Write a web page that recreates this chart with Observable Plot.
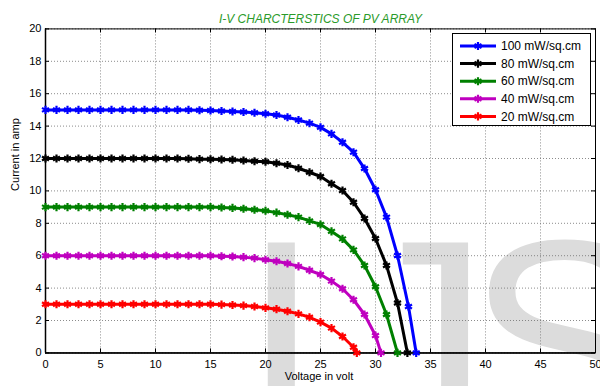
<!DOCTYPE html>
<html>
<head>
<meta charset="utf-8">
<script src="https://cdn.jsdelivr.net/npm/d3@7"></script>
<script src="https://cdn.jsdelivr.net/npm/@observablehq/plot@0.6"></script>
<style>
  html, body { margin: 0; padding: 0; background: #fff; }
  #chart { width: 600px; height: 386px; }
</style>
</head>
<body>
<div id="chart"></div>
<script>
// ---- data ----
const titleText = "I-V CHARCTERSTICS OF PV ARRAY";
const xLabel = "Voltage in volt";
const yLabel = "Current in amp";
const watermarkParts = ["I", "J", "SER"];
const seriesNames = ["100 mW/sq.cm", "80 mW/sq.cm", "60 mW/sq.cm", "40 mW/sq.cm", "20 mW/sq.cm"];
const seriesColors = ["#0000ff", "#000000", "#008000", "#bf00bf", "#ff0000"];
const xTicks = [0, 5, 10, 15, 20, 25, 30, 35, 40, 45, 50];
const yTicks = [0, 2, 4, 6, 8, 10, 12, 14, 16, 18, 20];
// voltage samples (V), one per integer volt
const voltage = [0,1,2,3,4,5,6,7,8,9,10,11,12,13,14,15,16,17,18,19,20,21,22,23,24,25,26,27,28,29,30,31,32,33];
// currents (A) at those voltages
const i100 = [15,15,15,15,15,15,15,15,15,15,15,15,15,15.0,14.98,14.96,14.93,14.9,14.87,14.82,14.76,14.68,14.55,14.38,14.18,13.92,13.52,13.0,12.39,11.38,10.07,8.38,6.01,2.86];
const i80  = [12,12,12,12,12,12,12,12,12,12,12,12,12,11.98,11.96,11.95,11.94,11.92,11.88,11.83,11.8,11.71,11.6,11.4,11.15,10.89,10.44,10.02,9.3,8.3,7.06,5.4,3.08];
const i60  = [9,9,9,9,9,9,9,9,9,9,9,9,9,9,9,9,8.97,8.95,8.9,8.84,8.77,8.66,8.53,8.38,8.15,7.93,7.5,7.04,6.36,5.4,4.08,2.37];
const i40  = [6,6,6,6,6,6,6,6,6,6,6,6,6,6,6,6,5.97,5.95,5.91,5.85,5.75,5.66,5.52,5.34,5.1,4.84,4.43,3.96,3.28,2.37,1.07];
const i20  = [3,3,3,3,3,3,3,3,3,3,3,3,3,3,3,3,2.98,2.96,2.92,2.86,2.78,2.7,2.57,2.41,2.2,1.9,1.53,1.01,0.35];
// open-circuit voltage (current = 0) of each curve
const voc = [33.7, 32.9, 32.0, 30.5, 28.3];

const currents = [i100, i80, i60, i40, i20];
const rows = seriesNames.flatMap((name, k) => {
  const pts = currents[k].map((c, j) => ({series: name, V: voltage[j], I: c}));
  pts.push({series: name, V: voc[k], I: 0});
  return pts;
});

// ---- layout ----
const W = 600, H = 386;
const mL = 45, mR = 5, mT = 28.4, mB = 33.6;
const innerW = W - mL - mR, innerH = H - mT - mB;
const tick = 4;
const font = "'Liberation Sans', Arial, Helvetica, sans-serif";

const chart = Plot.plot({
  width: W, height: H,
  marginLeft: mL, marginRight: mR, marginTop: mT, marginBottom: mB,
  style: {fontFamily: font, fontSize: "11px", background: "#fff", color: "#000"},
  x: {domain: [0, 50], axis: null},
  y: {domain: [0, 20], axis: null},
  color: {domain: seriesNames, range: seriesColors},
  marks: [
    // grid
    Plot.ruleX(xTicks, {stroke: "#6f6f6f", strokeWidth: 0.8, strokeDasharray: "1,2"}),
    Plot.ruleY(yTicks, {stroke: "#6f6f6f", strokeWidth: 0.8, strokeDasharray: "1,2"}),
    // inward ticks on all four sides
    Plot.tickX(xTicks, {x: d => d, insetTop: innerH - tick, stroke: "#000"}),
    Plot.tickX(xTicks, {x: d => d, insetBottom: innerH - tick, stroke: "#000"}),
    Plot.tickY(yTicks, {y: d => d, insetRight: innerW - tick, stroke: "#000"}),
    Plot.tickY(yTicks, {y: d => d, insetLeft: innerW - tick, stroke: "#000"}),
    // tick labels
    Plot.axisX(xTicks, {tickSize: 0, tickPadding: 7, fontSize: 11, label: null}),
    Plot.axisY(yTicks, {tickSize: 0, tickPadding: 4, fontSize: 11, label: null}),
    // frame
    Plot.frame({stroke: "#000", strokeWidth: 1}),
    Plot.ruleX([0], {stroke: "#000", strokeWidth: 1.5}),
    Plot.ruleY([0], {stroke: "#000", strokeWidth: 1.5}),
    // curves
    Plot.line(rows, {x: "V", y: "I", z: "series", stroke: "series", strokeWidth: 3}),
    Plot.dot(rows, {x: "V", y: "I", stroke: "series", fill: "series", symbol: "asterisk", r: 3.8, strokeWidth: 2.2}),
    // texts
    Plot.text([titleText], {frameAnchor: "top", dy: -14.5, fill: "#2a9a2a", fontStyle: "italic", fontSize: 12}),
    Plot.text([xLabel], {frameAnchor: "bottom", dy: 27, dx: -1.5, fontSize: 11}),
    Plot.text([yLabel], {frameAnchor: "left", dx: -30, rotate: -90, fontSize: 11})
  ]
});

const svg = d3.select(chart);
// watermark behind everything
const wm = svg.insert("text", ":first-child")
  .attr("x", 241).attr("y", 442).attr("text-anchor", "start")
  .attr("font-family", font).attr("font-size", 290)
  .attr("fill", "#dcdcdc");
const wmShift = [0, 23, -23];
watermarkParts.forEach((p, k) => wm.append("tspan").attr("dx", wmShift[k]).text(p));
svg.insert("rect", ":first-child").attr("width", W).attr("height", H).attr("fill", "#fff");

// legend
const lg = svg.append("g");
lg.append("rect").attr("x", 452.5).attr("y", 33.5).attr("width", 138).attr("height", 92)
  .attr("fill", "#fff").attr("stroke", "#000").attr("stroke-width", 1);
seriesNames.forEach((name, k) => {
  const y = 46 + k * 17.6;
  lg.append("line").attr("x1", 460).attr("x2", 496).attr("y1", y).attr("y2", y)
    .attr("stroke", seriesColors[k]).attr("stroke-width", 3);
  lg.append("path").attr("transform", `translate(478,${y})`)
    .attr("d", d3.symbol(d3.symbolAsterisk, Math.PI * 3.8 * 3.8)())
    .attr("stroke", seriesColors[k]).attr("fill", seriesColors[k]).attr("stroke-width", 2.2);
  lg.append("text").attr("x", 501).attr("y", y + 4.2).attr("text-anchor", "start")
    .attr("font-family", font).attr("font-size", 12).attr("fill", "#000").text(name);
});

document.getElementById("chart").appendChild(chart);
</script>
</body>
</html>
